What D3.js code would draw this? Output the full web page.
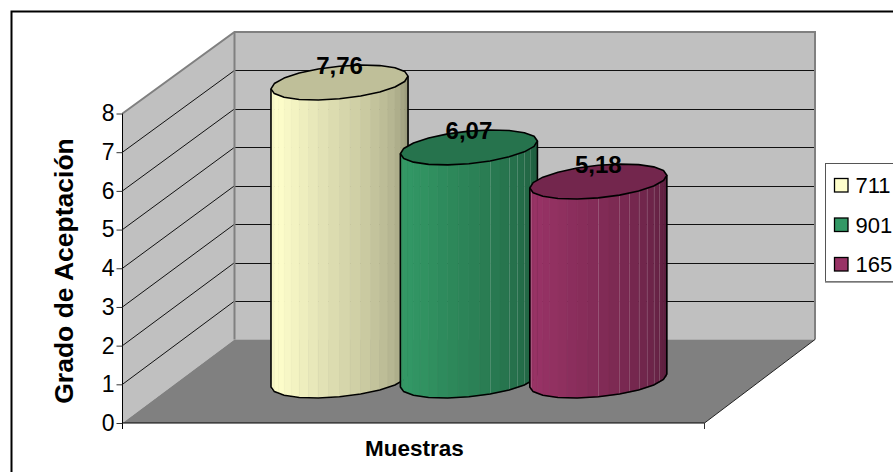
<!DOCTYPE html>
<html><head><meta charset="utf-8">
<script src="https://cdn.jsdelivr.net/npm/d3@7"></script>
<style>html,body{margin:0;padding:0;background:#fff;overflow:hidden}svg{display:block}text{font-family:"Liberation Sans",Arial,sans-serif;fill:#000}</style>
</head><body><svg id="c" width="893" height="472"></svg>
<script>
const seriesNames = ["711","901","165"];
const values = [7.76,6.07,5.18];
const valueLabels = ["7,76","6,07","5,18"];
const yTicks = [0,1,2,3,4,5,6,7,8];
const yTitle = "Grado de Aceptación";
const xTitle = "Muestras";
const baseColors = ["#FFFFCC","#339966","#993366"];
const seamFacets = [[],[12,14,15,16,17],[1,10,12,13,14,15,16,17]];

const svg = d3.select("#c");
const W=893,H=472;
svg.append("rect").attr("x",11.5).attr("y",11.5).attr("width",W+20).attr("height",H+20)
  .attr("fill","#fff").attr("stroke","#000").attr("stroke-width",2);

const yFront = d3.scaleLinear().domain([0,8]).range([423,113.5]);
const yBack  = d3.scaleLinear().domain([0,8]).range([339.5,32]);
const yMid   = d3.scaleLinear().domain([0,8]).range([380.5,73.3]);
const xCenter = d3.scalePoint().domain(seriesNames).range([339.5,598.3]);
const fx0=122.5,fx1=704.5,bx0=234.5,bx1=815;
const line=d3.line();

// walls and floor
svg.append("path").attr("d",line([[fx0,yFront(8)],[bx0,yBack(8)],[bx0,yBack(0)],[fx0,yFront(0)]])+"Z").attr("fill","#c0c0c0");
svg.append("rect").attr("x",bx0).attr("y",yBack(8)).attr("width",bx1-bx0).attr("height",yBack(0)-yBack(8)).attr("fill","#c0c0c0");
svg.append("path").attr("d",line([[fx0,yFront(0)],[bx0,yBack(0)],[bx1,yBack(0)],[fx1,yFront(0)]])+"Z").attr("fill","#808080");

// gridlines
yTicks.filter(d=>d>0&&d<8).forEach(d=>{
  svg.append("line").attr("x1",bx0).attr("x2",bx1).attr("y1",Math.round(yBack(d))+.5).attr("y2",Math.round(yBack(d))+.5).attr("stroke","#111").attr("stroke-width",1);
  svg.append("line").attr("x1",fx0).attr("y1",yFront(d)).attr("x2",bx0).attr("y2",yBack(d)).attr("stroke","#111").attr("stroke-width",1);
});
// wall edges
svg.append("path").attr("d",line([[fx0,yFront(8)],[bx0,yBack(8)],[bx1,yBack(8)],[bx1,yBack(0)]])).attr("fill","none").attr("stroke","#808080").attr("stroke-width",2);
svg.append("line").attr("x1",bx0).attr("x2",bx0).attr("y1",yBack(8)).attr("y2",yBack(0)).attr("stroke","#808080").attr("stroke-width",2);
svg.append("path").attr("d",line([[fx1,yFront(0)],[bx1,yBack(0)]])).attr("fill","none").attr("stroke","#222").attr("stroke-width",1);

// axes
const gY=svg.append("g").attr("transform",`translate(${fx0},0)`).call(d3.axisLeft(yFront).tickValues(yTicks).tickSize(6).tickPadding(2).tickFormat(d3.format("d")));
gY.select(".domain").attr("stroke","#000").attr("d",`M0,${yFront(8)}V${yFront(0)+6}`);
gY.selectAll("line").attr("stroke","#333");
gY.selectAll("text").style("font-family",'"Liberation Sans",Arial,sans-serif').style("font-size","23px").attr("fill","#000");
svg.append("line").attr("x1",fx0).attr("x2",fx1).attr("y1",423).attr("y2",423).attr("stroke","#000").attr("stroke-width",1.2);
svg.append("line").attr("x1",fx1).attr("x2",fx1).attr("y1",423).attr("y2",429).attr("stroke","#333");

// cylinders
const ux=63.8, vx=25, vy=-17.5;
const tRight=Math.atan2(vx,ux);
const nF=20;
const pt=(cx,cy,t)=>[cx+ux*Math.cos(t)+vx*Math.sin(t), cy+vy*Math.sin(t)];
function shade(c,f){const q=d3.rgb(c);return d3.rgb(q.r*f,q.g*f,q.b*f).formatHex();}
const shadeAt=d3.scaleLinear().domain([0,.12,.3,.55,.8,1]).range([.95,1,.94,.83,.71,.58]);

seriesNames.forEach((s,i)=>{
  const cx=xCenter(s), top=yMid(values[i]), bot=yMid(0), col=baseColors[i];
  const g=svg.append("g");
  const ts=d3.range(nF+1).map(k=>tRight-Math.PI+k*Math.PI/nF);
  d3.range(nF).forEach(k=>{
    const a=ts[k],b=ts[k+1];
    const p=[pt(cx,top,a),pt(cx,top,b),pt(cx,bot,b),pt(cx,bot,a)];
    const f=shade(col,shadeAt(k/(nF-1)));
    g.append("path").attr("d",line(p)+"Z").attr("fill",f).attr("stroke",f).attr("stroke-width",.6);
  });
  seamFacets[i].forEach(k=>{
    const a=pt(cx,top,ts[k]),b=pt(cx,bot,ts[k]);
    g.append("line").attr("x1",Math.round(a[0])+.5).attr("x2",Math.round(a[0])+.5).attr("y1",a[1]).attr("y2",b[1]).attr("stroke","#fff").attr("stroke-opacity",.16);
  });
  const front=ts.filter((t,k)=>k%2===0).map(t=>pt(cx,bot,t));
  g.append("path").attr("d",line([pt(cx,top,ts[0]),...front,pt(cx,top,ts[nF])])).attr("fill","none").attr("stroke","#000").attr("stroke-width",1.6);
  const cap=d3.range(0,20).map(k=>pt(cx,top,k*Math.PI/10+tRight));
  g.append("path").attr("d",line(cap)+"Z").attr("fill",shade(col,.75)).attr("stroke","#000").attr("stroke-width",1.6).attr("stroke-linejoin","round");
});
seriesNames.forEach((s,i)=>{
  svg.append("text").attr("x",xCenter(s)).attr("y",yMid(values[i])-8.5).attr("text-anchor","middle").attr("font-size",24).attr("font-weight","bold").text(valueLabels[i]);
});

// titles
svg.append("text").attr("transform","translate(73,271) rotate(-90)").attr("text-anchor","middle").attr("font-size",26.5).attr("font-weight","bold").text(yTitle);
svg.append("text").attr("x",414.5).attr("y",456).attr("text-anchor","middle").attr("font-size",22.5).attr("font-weight","bold").text(xTitle);

// legend
svg.append("rect").attr("x",825.5).attr("y",163.5).attr("width",100).attr("height",118).attr("fill","#fff").attr("stroke","#555").attr("stroke-width",1);
svg.append("line").attr("x1",825).attr("x2",893).attr("y1",282).attr("y2",282).attr("stroke","#808080").attr("stroke-width",1.5);
const legY=d3.scalePoint().domain(seriesNames).range([185,264]);
seriesNames.forEach((s,i)=>{
  svg.append("rect").attr("x",834.5).attr("y",legY(s)-6.5).attr("width",13.5).attr("height",13.5).attr("fill",baseColors[i]).attr("stroke","#000").attr("stroke-width",1.3);
  svg.append("text").attr("x",855.5).attr("y",legY(s)+8).attr("font-size",22).text(s);
});
</script></body></html>
